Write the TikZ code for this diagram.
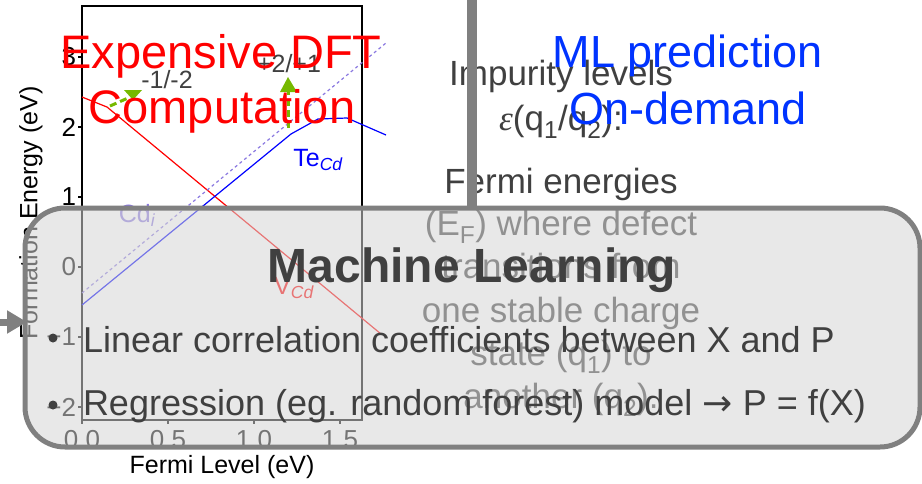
\documentclass[tikz,border=0pt]{standalone}
\usepackage{fontspec}
\setmainfont{Liberation Sans}
\newfontfamily\symfont{DejaVu Sans}
\newfontfamily\greekfont{Liberation Serif}
\usetikzlibrary{arrows.meta}

\tikzset{
  every node/.style={inner sep=0pt, outer sep=0pt},
  bigtitle/.style={font=\fontsize{47}{50}\selectfont, anchor=base},
  body/.style={font=\fontsize{35}{40}\selectfont, text=c1, anchor=base},
  ticklab/.style={font=\fontsize{26}{28}\selectfont},
  axlab/.style={font=\fontsize{25}{28}\selectfont},
  curve/.style={line width=1.2pt},
  levmark/.style={c5, line width=3pt, dash pattern=on 7pt off 4pt},
}

\begin{document}
\begin{tikzpicture}[x=1pt,y=-1pt]

\definecolor{c1}{HTML}{404040}
\definecolor{c2}{HTML}{808080}
\definecolor{c3}{HTML}{D5D5D5}
\definecolor{c4}{HTML}{0033FF}
\definecolor{c5}{HTML}{76B900}
\definecolor{c6}{HTML}{8A78E0}

\useasboundingbox (0,0) rectangle (922,483);

% the formation energy plot
\draw[line width=1.2pt] (82,6) rectangle (362,420);
\foreach \e/\lab in {3/3,2/2,1/1,0/0,-1/−1,-2/−2}{
  \draw[line width=1.2pt] (78,{267-70*\e}) -- (82,{267-70*\e});
  \node[ticklab, anchor=east] (ytick\e) at (76,{267-70*\e}) {\lab};
}
\foreach \f/\lab in {0/0.0,1/0.5,2/1.0,3/1.5}{
  \draw[line width=1.2pt] ({82+86*\f},420) -- ({82+86*\f},424);
  \node[ticklab] (xtick\f) at ({82+86*\f},440) {\lab};
}
\node[axlab] (xlab) at (222,467) {Fermi Level (eV)};
\node[axlab, rotate=90] (ylab) at (31,213) {Formation Energy (eV)};

\draw[curve, red] (82,97) -- (107,107) -- (381,334);
\draw[curve, blue] (82,305) -- (291,134) -- (318,119) -- (347,118) -- (386,135);
\draw[curve, c6, dashed] (82,293) -- (386,43);

\node[axlab, text=blue] (tecd) at (318,160) {Te\textsubscript{\itshape Cd}};
\node[axlab, text=c6] (cdi) at (137,215) {Cd\textsubscript{\itshape i}};
\node[axlab, text=red] (vcd) at (294,288) {V\textsubscript{\itshape Cd}};

% transition levels
\draw[levmark] (110,106) -- (128,98);
\fill[c5] (124,90) -- (142,90) -- (133,100) -- cycle;
\draw[levmark] (288,128) -- (288,92);
\fill[c5] (280,92) -- (297,92) -- (288,77) -- cycle;
\node[axlab, text=c1, anchor=base] (lev1) at (167,88) {-1/-2};
\node[axlab, text=c1, anchor=base] (lev2) at (289,72) {+2/+1};

% left half title
\node[bigtitle, text=red] (dft) at (221,68) {Expensive DFT};
\node[bigtitle, text=red] (comp) at (222,123) {Computation};

% right half
\node[body] (imp) at (561,85) {Impurity levels};
\node[body] (eps) at (561,130) {{\greekfont\itshape ε}(q\textsubscript{1}/q\textsubscript{2}):};
\node[body] (fe1) at (561,193) {Fermi energies};
\node[body] (fe2) at (561,235) {(E\textsubscript{F}) where defect};
\node[body] (fe3) at (561,278) {transitions from};
\node[body] (fe4) at (561,322) {one stable charge};
\node[body] (fe5) at (561,365) {state (q\textsubscript{1}) to};
\node[body] (fe6) at (561,408) {another (q\textsubscript{2}).};

\node[bigtitle, font=\fontsize{45}{50}\selectfont, text=c4] (ml) at (688,67) {ML prediction};
\node[bigtitle, font=\fontsize{45}{50}\selectfont, text=c4] (dem) at (688,124) {On-demand};

\draw[c2, line width=10pt] (472,0) -- (472,208);

% machine learning box
\coordinate (tail) at (0,322);
\coordinate (tip) at (27,322);
\draw[c2, line width=7pt, -{Triangle[length=20pt,width=22pt]}] (tail) -- (tip);
\draw[c2, line width=5pt, fill=c3, fill opacity=0.55, rounded corners=40pt] (25,208) rectangle (920,447);

\node[body, font=\bfseries\fontsize{48}{50}\selectfont] (mlhead) at (472,282) {Machine Learning};
\fill[c1] (53,338) circle (4.5);
\fill[c1] (53,405) circle (4.5);
\node[body, font=\fontsize{36}{40}\selectfont, anchor=base west] (pt1) at (83,352) {Linear correlation coefficients between X and P};
\node[body, font=\fontsize{36}{40}\selectfont, anchor=base west] (pt2) at (83,415) {Regression (eg. random forest) model {\symfont →} P = f(X)};

\end{tikzpicture}
\end{document}
